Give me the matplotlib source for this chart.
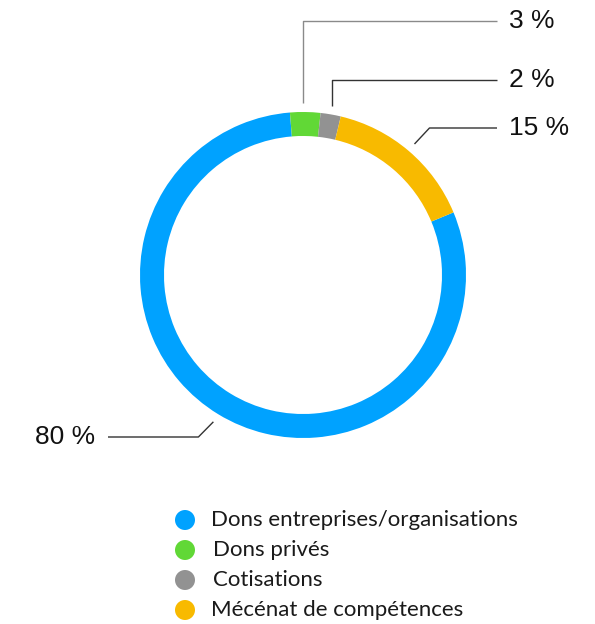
import numpy as np
import matplotlib
matplotlib.use("Agg")
import matplotlib.pyplot as plt

categories = ["Dons entreprises/organisations", "Dons privés", "Cotisations", "Mécénat de compétences"]
values = [80, 3, 2, 15]
labels = ["80 %", "3 %", "2 %", "15 %"]
colors = ["#00A2FF", "#61D836", "#929292", "#F8BA00"]

W, H = 595, 624
fig = plt.figure(figsize=(W / 100, H / 100), dpi=100)
ax = fig.add_axes([0, 0, 1, 1])

cx, cy, R, ring = 303, H - 275, 163, 24
start = 22.6
wedges, _ = ax.pie(values, colors=colors, startangle=start, counterclock=False,
                   center=(cx, cy), radius=R,
                   wedgeprops=dict(width=ring, edgecolor="none", linewidth=0))
ax.set_xlim(0, W)
ax.set_ylim(0, H)
ax.set_aspect("equal")
ax.axis("off")

# leader lines & labels
label_y = {1: H - 21, 2: H - 80, 3: H - 128, 0: H - 437}
line_col = {1: "#8a8a8a", 2: "#333333", 3: "#333333", 0: "#333333"}
lab_font = dict(fontsize=19, family="Liberation Sans", color="#111111")
for i, w in enumerate(wedges):
    mid = np.deg2rad((w.theta1 + w.theta2) / 2)
    r0 = R + 9
    x0, y0 = cx + r0 * np.cos(mid), cy + r0 * np.sin(mid)
    if i == 1:
        x0 -= 2
    ly = label_y[i]
    if i in (1, 2):
        xs = [x0, x0, 497]
        ys = [y0, ly, ly]
        ax.text(509, ly, labels[i], ha="left", va="center", **lab_font)
    elif i == 3:
        xs = [x0, x0 + 15, 497]
        ys = [y0, ly, ly]
        ax.text(509, ly, labels[i], ha="left", va="center", **lab_font)
    else:
        xs = [x0, x0 - 15, 108]
        ys = [y0, ly, ly]
        ax.text(95, ly, labels[i], ha="right", va="center", **lab_font)
    ax.plot(xs, ys, color=line_col[i], lw=1.0, solid_capstyle="butt")

# legend
for i, (cat, col) in enumerate(zip(categories, colors)):
    y = H - (520 + 30 * i)
    ax.scatter([185], [y], s=(14.4) ** 2, color=col, edgecolors="none")
    ax.text(211 + (2 if i in (1, 2) else 0), y, cat, ha="left", va="center",
            fontsize=16, family="Lato", color="#1a1a1a")

fig.savefig("out.png", dpi=100)
